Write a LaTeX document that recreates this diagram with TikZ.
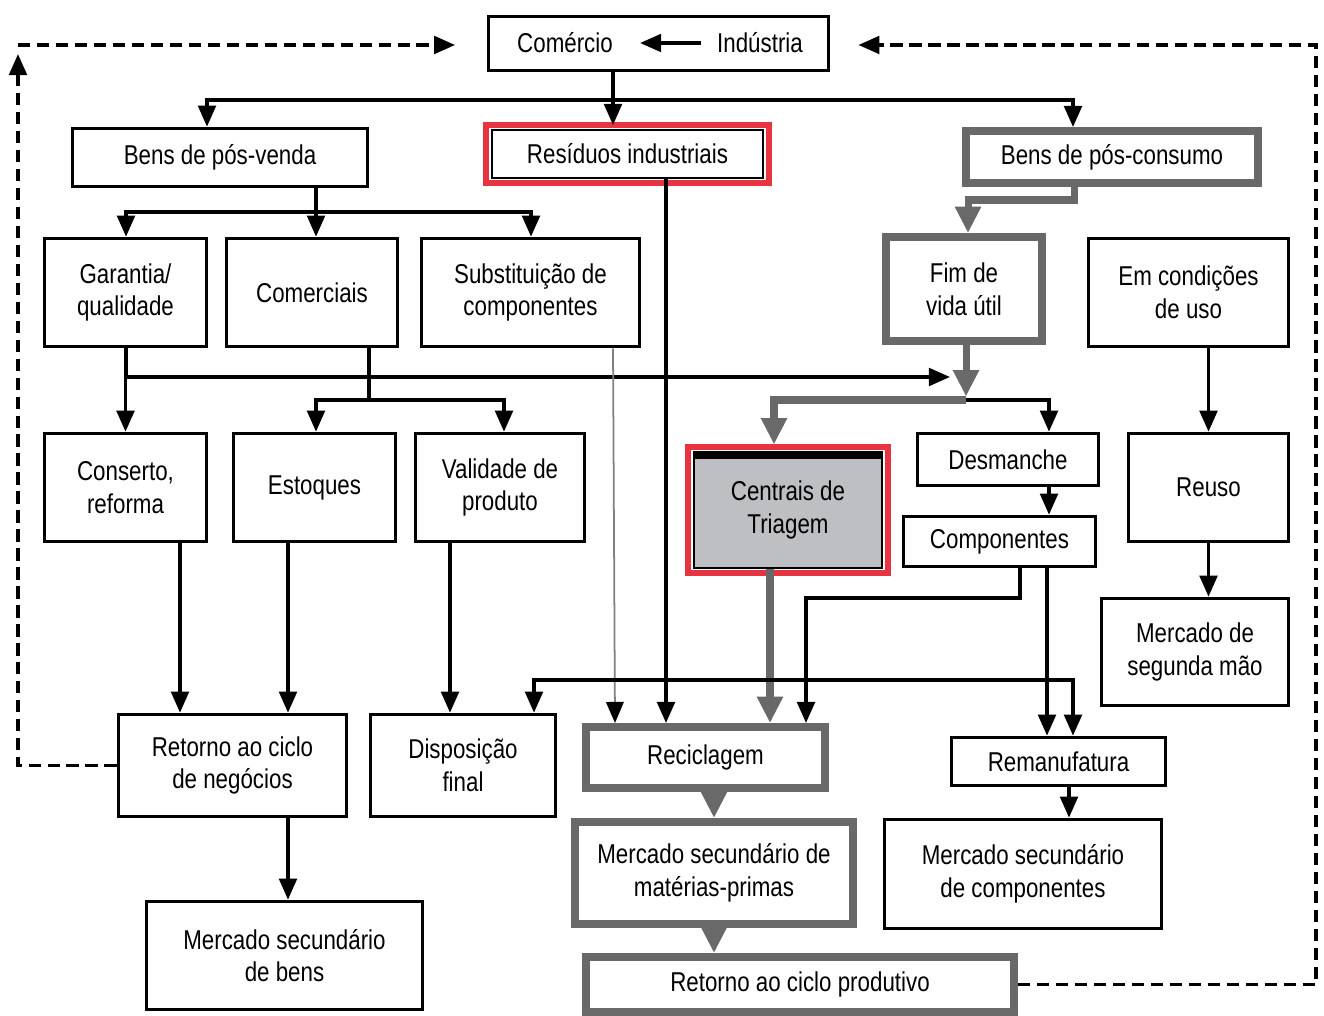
\documentclass[tikz,border=0pt]{standalone}
\usepackage{fontspec}
\setmainfont{Liberation Sans}[FakeStretch=0.82]
\usepackage{tikz}
\usetikzlibrary{arrows.meta}
\definecolor{cyclegray}{RGB}{105,105,105}
\definecolor{alertred}{RGB}{232,52,64}
\definecolor{sortfill}{RGB}{190,191,195}
\newcommand{\boxfont}{\fontsize{15.5}{18.6}\selectfont}

\begin{document}
\begin{tikzpicture}[
  x=0.02cm, y=-0.02cm,
  sz/.style 2 args={minimum width=#1*0.02cm, minimum height=#2*0.02cm},
  box/.style={draw, line width=2pt, align=center, font=\boxfont, inner sep=2pt},
  graybox/.style={box, draw=cyclegray, line width=4.5pt},
  redbox/.style={box, line width=1pt},
  redring/.style={draw=alertred, line width=3.4pt},
  link/.style={line width=2pt},
  arr/.style={link, -{Triangle[length=12pt, width=10pt]}},
  garr/.style={line width=4pt, draw=cyclegray, -{Triangle[length=15pt, width=14pt]}},
  thinarr/.style={line width=1pt, draw=gray, -{Triangle[length=12pt, width=10pt, color=black]}},
  dasharr/.style={link, dash pattern=on 7pt off 3.8pt, -{Triangle[length=12pt, width=10pt]}}
]
  \useasboundingbox (0,0) rectangle (1324,1016);

  % --- Nodes ---
  \node[box, sz={340}{54}] (top) at (658.5,43.5) {};
  \node[font=\boxfont] (com) at (565,43) {Comércio};
  \node[font=\boxfont] (ind) at (760,43) {Indústria};

  \node[box, sz={295}{58}] (bpv) at (220,157.5) {Bens de pós-venda};
  \node[redbox, sz={271}{48}] (res) at (627.5,154) {Resíduos industriais};
  \node[graybox, sz={292}{52}] (bpc) at (1112,157) {Bens de pós-consumo};

  \node[box, sz={162}{108}] (gar) at (125.5,292.5) {Garantia/\\qualidade};
  \node[box, sz={171}{108}] (comr) at (312,292.5) {Comerciais};
  \node[box, sz={218}{108}] (subst) at (530.5,292.5) {Substituição de\\componentes};
  \node[graybox, sz={156}{104}] (fim) at (964,289) {Fim de\\vida útil};
  \node[box, sz={200}{108}] (emc) at (1188.5,292.5) {Em condições\\de uso};

  \node[box, sz={162}{108}] (cons) at (125.5,487.5) {Conserto,\\reforma};
  \node[box, sz={162}{108}] (est) at (314.5,487.5) {Estoques};
  \node[box, sz={169}{108}] (val) at (500,487.5) {Validade de\\produto};
  \node[redbox, line width=1.6pt, fill=sortfill, sz={188}{116}] (cen) at (788,510) {Centrais de\\Triagem};
  \node[box, sz={181}{52}] (desm) at (1008,459.5) {Desmanche};
  \node[box, sz={192}{50}] (compo) at (999.5,541.5) {Componentes};
  \node[box, sz={160}{108}] (reuso) at (1208.5,487.5) {Reuso};
  \node[box, sz={187}{107}] (msm) at (1195,652) {Mercado de\\segunda mão};

  \node[box, sz={228}{102}] (rneg) at (232.5,765.5) {Retorno ao ciclo\\de negócios};
  \node[box, sz={185}{102}] (disp) at (463,765.5) {Disposição\\final};
  \node[graybox, sz={239}{61}] (recic) at (705.5,757.5) {Reciclagem};
  \node[box, sz={214}{48}] (reman) at (1058.5,761.5) {Remanufatura};

  \node[box, sz={276}{108}] (mbens) at (284.5,955.5) {Mercado secundário\\de bens};
  \node[graybox, sz={278}{102}] (mmat) at (714,873) {Mercado secundário de\\matérias-primas};
  \node[box, sz={277}{109}] (mcomp) at (1023,874) {Mercado secundário\\de componentes};
  \node[graybox, sz={428}{55}] (rprod) at (800,984.5) {Retorno ao ciclo produtivo};

  % red frames
  \draw[redring] ([shift={(-5,-4)}]res.north west) rectangle ([shift={(5,4)}]res.south east);
  \draw[redring] ([shift={(-5,-4)}]cen.north west) rectangle ([shift={(5,4)}]cen.south east);
  \draw[line width=4pt] ([shift={(0,5)}]cen.north west) -- ([shift={(0,5)}]cen.north east);

  % --- Connectors ---
  \draw[arr, shorten <=5.6pt, shorten >=12pt] (ind.west) -- (com.east);

  % Comércio/Indústria to the three kinds of goods
  \coordinate (busA) at (613,100);
  \draw[link] (top.south -| busA) -- (busA);
  \draw[arr] (busA) -| (bpv.north -| 207,0);
  \draw[arr, shorten >=2.3pt] (busA) -- (res.north -| busA);
  \draw[arr] (busA) -| (bpc.north -| 1073,0);

  % pós-venda
  \coordinate (busB) at (316,212);
  \draw[link] (bpv.south -| busB) -- (busB);
  \draw[arr] (busB) -| (gar.north -| 126,0);
  \draw[arr] (busB) -- (comr.north -| busB);
  \draw[arr] (busB) -| (subst.north -| 531,0);

  % pós-consumo
  \draw[garr] (bpc.south -| 1074,0) -- (1074,200) -| (fim.north -| 968,0);
  \coordinate (mrg) at (966,400);
  \draw[garr, shorten >=2pt] (fim.south -| mrg) -- (mrg);
  \draw[garr, shorten >=3.5pt] (mrg) -| (cen.north -| 774,0);
  \draw[arr] (mrg) -| (desm.north -| 1049,0);
  \draw[arr] (desm.south -| 1049,0) -- (compo.north -| 1049,0);

  \coordinate (tipA) at (950,377);
  \draw[arr] (gar.south -| 126,0) -- (126,377) -- (tipA);
  \draw[arr] (gar) -- (cons);

  \coordinate (busC) at (369,400);
  \draw[link] (comr.south -| busC) -- (busC);
  \draw[arr] (busC) -| (est.north -| 316,0);
  \draw[arr] (busC) -| (val.north -| 504,0);

  \draw[arr] (emc.south -| reuso) -- (reuso);
  \draw[arr] (reuso) -- (msm.north -| reuso);

  % to the returns
  \draw[arr] (cons.south -| 180,0) -- (rneg.north -| 180,0);
  \draw[arr] (est.south -| 288,0) -- (rneg.north -| 288,0);
  \draw[arr] (val.south -| 450,0) -- (disp.north -| 450,0);
  \draw[arr] (rneg.south -| 288,0) -- (mbens.north -| 288,0);

  \draw[thinarr] (subst.south -| 613,0) -- (recic.north -| 615,0);
  \draw[arr] (res.south -| 666,0) -- (recic.north -| 666,0);
  \draw[garr] (cen.south -| 770,0) -- (recic.north -| 770,0);
  \draw[arr] (compo.south -| 1020,0) -- (1020,598) -| (recic.north -| 806,0);
  \draw[arr] (compo.south -| 1047,0) -- (reman.north -| 1047,0);

  \coordinate (busD) at (770,680);
  \draw[arr] (busD) -| (disp.north -| 534,0);
  \draw[arr] (busD) -| (reman.north -| 1073,0);

  \draw[garr] (recic.south -| 714,0) -- (mmat.north -| 714,0);
  \draw[garr] (mmat.south -| 714,0) -- (rprod.north -| 714,0);
  \draw[arr] (reman.south -| 1069,0) -- (mcomp.north -| 1069,0);

  % dashed return loops
  \coordinate (cnrL) at (18,45);
  \draw[dasharr] (rneg.west) -| (18,54);
  \draw[dasharr, shorten >=18pt] (cnrL) -- (top.west |- cnrL);
  \draw[dasharr, shorten >=16pt] (rprod.east) -| (1316,45) -- (top.east |- cnrL);

\end{tikzpicture}
\end{document}
